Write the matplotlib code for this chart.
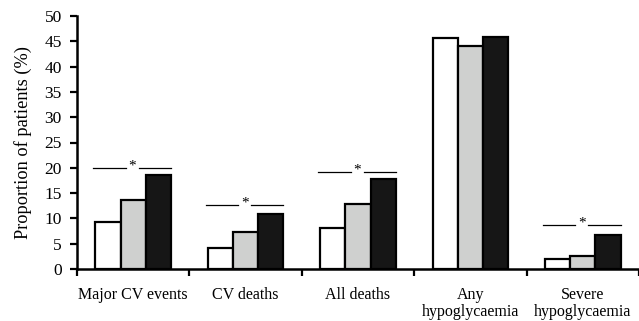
import numpy as np
import matplotlib
matplotlib.use("Agg")
import matplotlib.pyplot as plt

categories = ["Major CV events", "CV deaths", "All deaths", "Any\nhypoglycaemia", "Severe\nhypoglycaemia"]
group_a = [9.3, 4.2, 8.2, 45.6, 1.9]   # white bars
group_b = [13.6, 7.25, 12.85, 44.1, 2.6]  # grey bars
group_c = [18.6, 10.9, 17.7, 45.9, 6.7]  # black bars
# significance bracket heights (only some categories)
sig_idx = [0, 1, 2, 4]
sig_y = [19.9, 12.6, 19.1, 8.6]

plt.rcParams['font.family'] = ['Liberation Serif', 'DejaVu Serif']

fig = plt.figure(figsize=(6.39, 3.21), dpi=100)
ax = fig.add_axes([77 / 639, 1 - 269 / 321, 1 - 77 / 639, (269 - 16) / 321])

x = np.arange(len(categories))
w = 0.224
kw = dict(width=w, edgecolor='black', linewidth=1.6, zorder=3)
ax.bar(x - w, group_a, color='white', **kw)
ax.bar(x, group_b, color='#cfd0cf', **kw)
ax.bar(x + w, group_c, color='#161616', **kw)

for i, yv in zip(sig_idx, sig_y):
    left = i - 1.5 * w - 0.02
    right = i + 1.5 * w
    ax.plot([left, i - 0.065], [yv, yv], color='black', lw=0.9)
    ax.plot([i + 0.05, right], [yv, yv], color='black', lw=0.9)
    ax.text(i - 0.008, yv - 0.8, '*', ha='center', va='bottom', fontsize=11)

ax.set_xlim(-0.5, 4.5 - 3 / 113)
ax.set_ylim(0, 50)
ax.set_yticks(np.arange(0, 51, 5))
ax.set_xticks(x)
ax.set_xticklabels(categories, fontsize=11.5, linespacing=1.05)
ax.set_xticks(np.arange(-0.5, 4.6, 1), minor=True)
ax.tick_params(axis='x', which='major', length=0, pad=13)
ax.tick_params(axis='x', which='minor', length=5, width=1.6, direction='out')
ax.tick_params(axis='y', length=5, width=1.6, direction='out', labelsize=12.5, pad=6)
ax.set_ylabel('Proportion of patients (%)', fontsize=13.2, labelpad=9)

for s in ['top', 'right']:
    ax.spines[s].set_visible(False)
for s in ['left', 'bottom']:
    ax.spines[s].set_linewidth(1.8)

fig.savefig('out.png', dpi=100)
